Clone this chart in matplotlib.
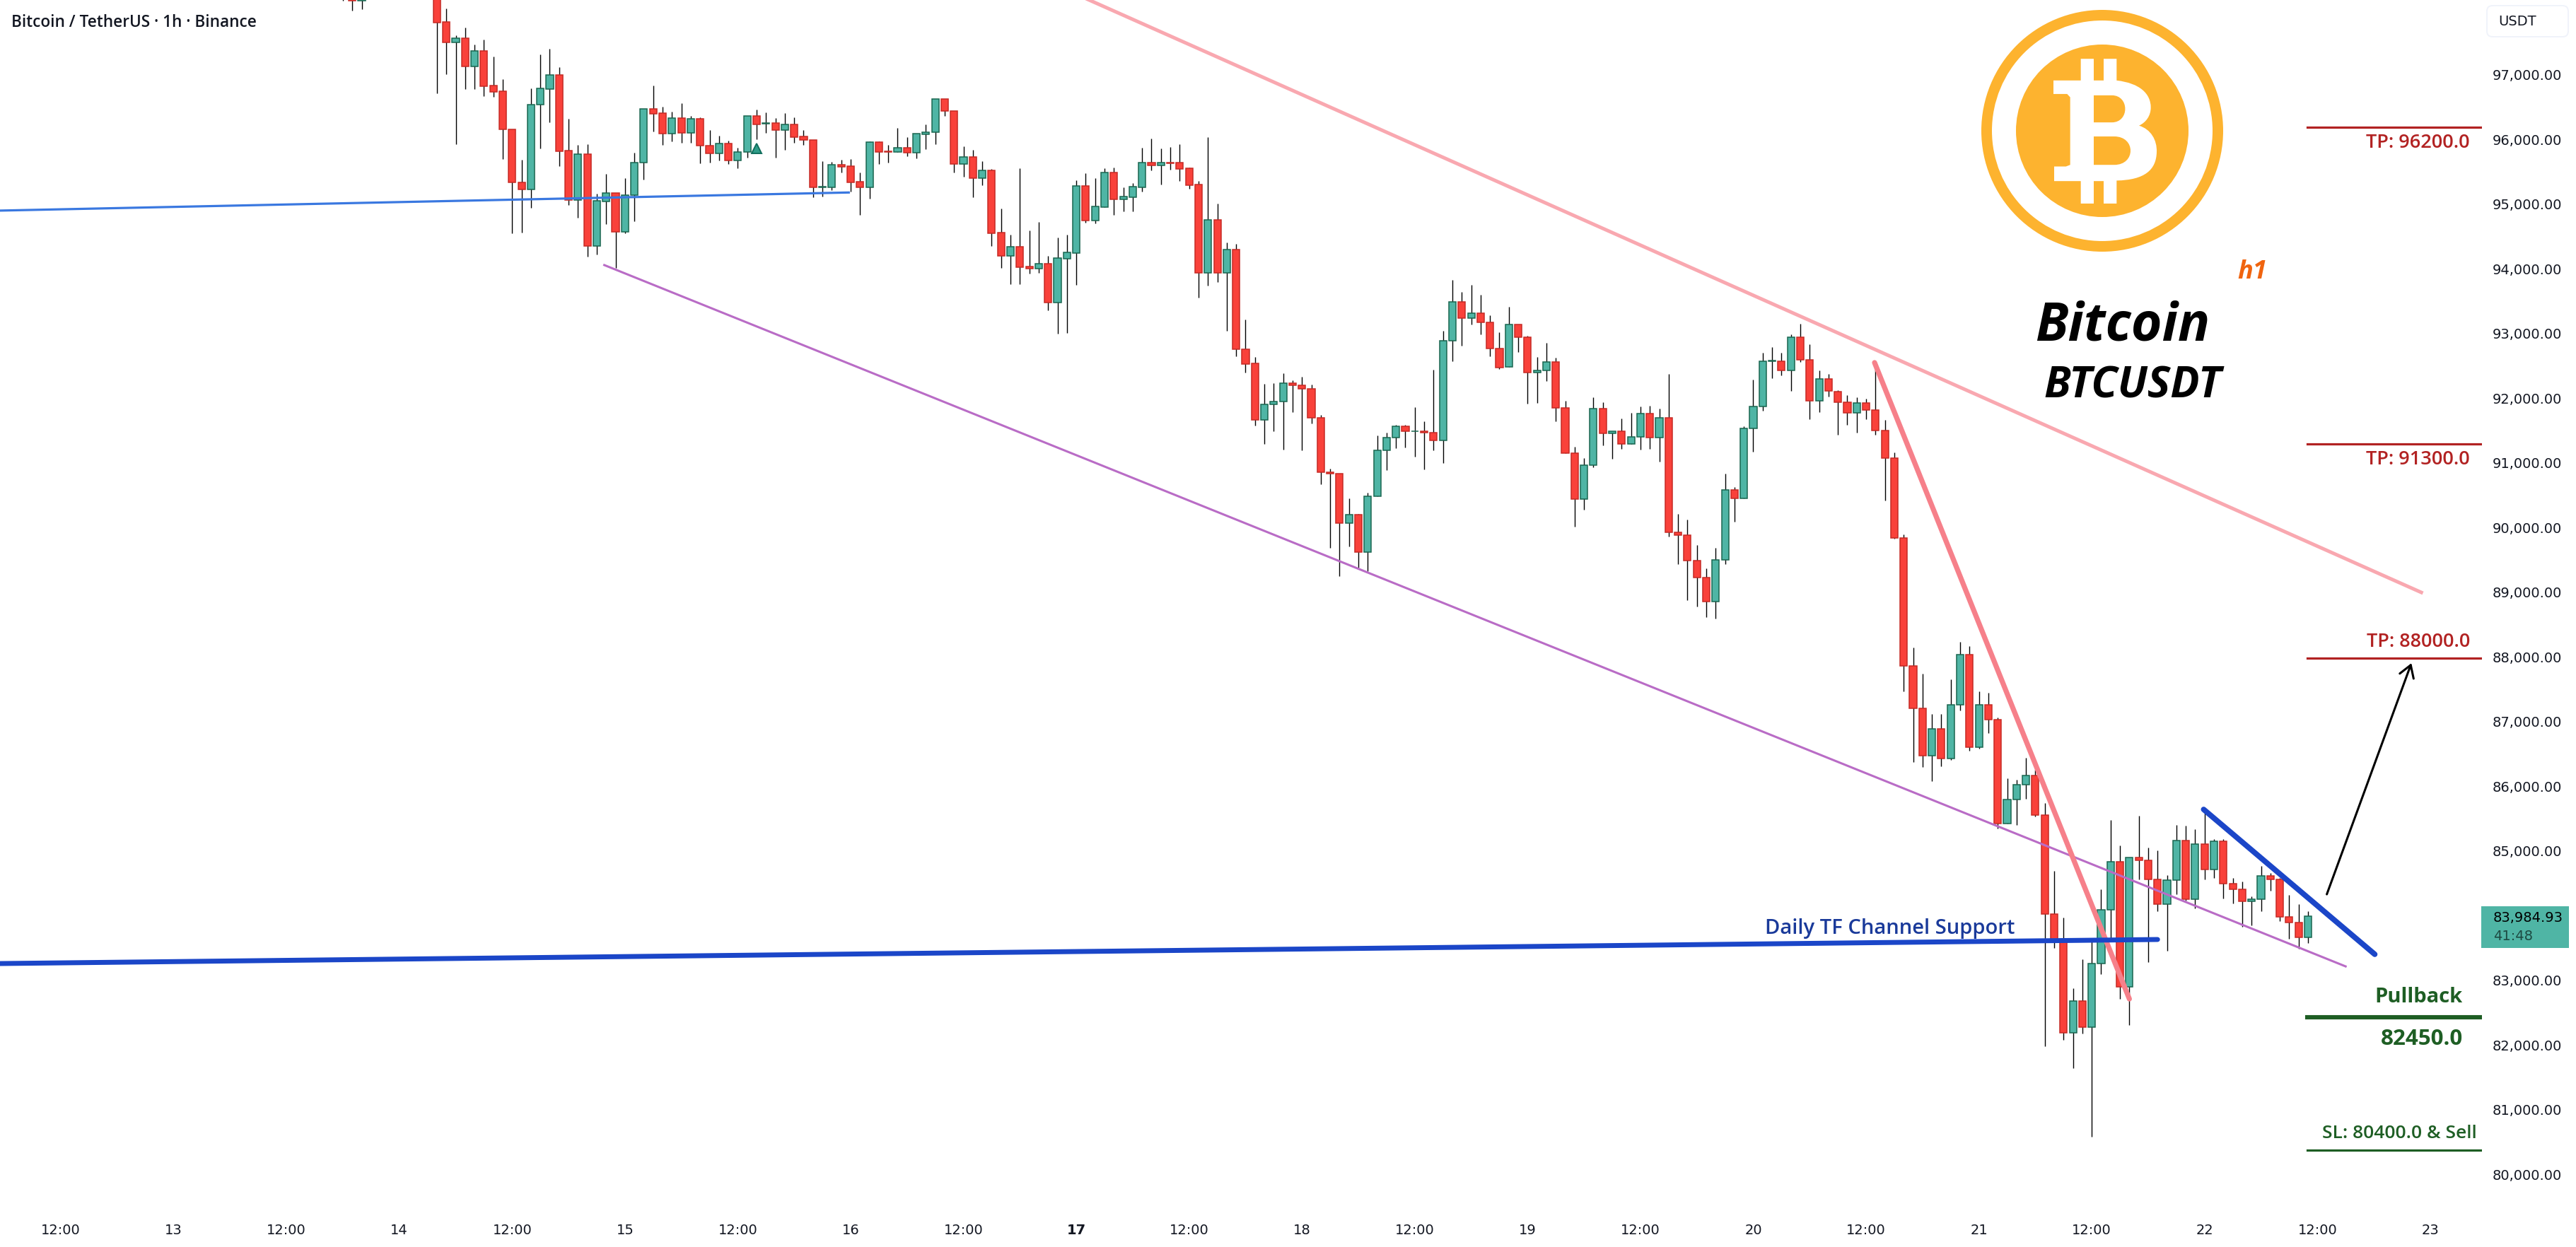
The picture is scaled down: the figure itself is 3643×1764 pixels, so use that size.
"""
BTCUSDT 1h chart with channel lines and trade levels.
"""
import matplotlib
matplotlib.use("Agg")
import matplotlib.pyplot as plt
from matplotlib.patches import Circle, FancyBboxPatch, PathPatch, Rectangle
from matplotlib.path import Path

W, H = 3643, 1765

# hours counted from the 12th 12:00; hours 33-39 are above the visible range
hours = [30, 31, 32] + list(range(40, 240))

opens = [98500, 98400, 98140, 98400, 97805, 97495, 97557, 97123, 97357, 96821,
         96737, 96143, 95324, 95222, 96526, 96774, 96985, 95816, 95054, 95761,
         94347, 95036, 95160, 94566, 95127, 95630, 96460, 96395, 96085, 96318,
         96096, 96307, 95892, 95779, 95925, 95670, 95794, 96351, 96238, 96242,
         96140, 96220, 96034, 95987, 95255, 95255, 95597, 95575, 95335, 95255,
         95947, 95809, 95801, 95860, 95790, 96075, 96100, 96614, 96428, 95608,
         95718, 95397, 95510, 94548, 94195, 94330, 94024, 93998, 94067, 93473,
         94151, 94238, 95269, 94741, 94949, 95477, 95069, 95102, 95255, 95630,
         95594, 95632, 95630, 95543, 95291, 93932, 94745, 93932, 94286, 92745,
         92526, 91652, 91892, 91935, 92219, 92186, 92141, 91684, 90842, 90820,
         90055, 90195, 89615, 90479, 91188, 91377, 91561, 91483, 91483, 91455,
         91333, 92883, 93480, 93234, 93301, 93167, 92755, 92470, 93134, 92939,
         92392, 92415, 92548, 91846, 91137, 90435, 90959, 91835, 91444, 91483,
         91288, 91388, 91751, 91377, 91690, 89922, 89877, 89476, 89213, 88851,
         89487, 90569, 90446, 91528, 91868, 92565, 92565, 92415, 92939, 92587,
         91946, 92292, 92097, 91924, 91768, 91913, 91812, 91494, 91070, 89832,
         87847, 87200, 86459, 86883, 86425, 87256, 88031, 86598, 87256, 87016,
         85410, 85790, 86018, 86163, 85550, 84010, 83598, 82176, 82666, 82270,
         83246, 84083, 84819, 82895, 84886, 84841, 84546, 84172, 84535, 85148,
         84245, 85092, 84708, 85137, 84490, 84401, 84217, 84250, 84602, 84546,
         83977, 83888, 83659]

highs = [98600, 98500, 98500, 98500, 98012, 97604, 97721, 97459, 97531, 97273,
         96919, 96143, 95673, 96781, 97302, 97393, 97109, 96311, 95907, 95918,
         95153, 95459, 95160, 95393, 95786, 96460, 96825, 96493, 96420, 96555,
         96355, 96329, 96136, 96053, 95973, 95863, 96351, 96453, 96410, 96319,
         96399, 96330, 96136, 95987, 95656, 95645, 95674, 95688, 95481, 95962,
         95962, 95907, 96169, 96027, 96082, 96220, 96614, 96614, 96428, 95881,
         95827, 95652, 95535, 94923, 94519, 95546, 94585, 94716, 94187, 94475,
         94519, 95361, 95470, 95397, 95546, 95557, 95251, 95317, 95863, 96005,
         95856, 95871, 95918, 95554, 95346, 96027, 95000, 94399, 94377, 93204,
         92628, 92213, 92228, 92375, 92270, 92325, 92203, 91729, 90903, 90820,
         90440, 90206, 90524, 91416, 91461, 91584, 91584, 91851, 91628, 92431,
         93034, 93820, 93636, 93742, 93591, 93273, 93011, 93402, 93134, 92956,
         92626, 92844, 92615, 91946, 91238, 91070, 92002, 91929, 91483, 91678,
         91762, 91862, 91879, 91835, 92364, 90206, 90111, 89721, 89358, 89676,
         90820, 90619, 91561, 92281, 92688, 92783, 92693, 92978, 93140, 92827,
         92415, 92370, 92113, 92035, 92002, 91985, 92437, 91656, 91154, 89882,
         88137, 87736, 87111, 87106, 87641, 88221, 88154, 87463, 87435, 87050,
         86113, 86091, 86431, 86247, 85734, 84680, 83960, 82873, 83313, 83626,
         84395, 85466, 85076, 84886, 85539, 85048, 84998, 84618, 85394, 85382,
         85327, 85578, 85176, 85176, 84574, 84518, 84284, 84763, 84646, 84574,
         84312, 84172, 84061]

lows = [98140, 97987, 98005, 96701, 96999, 95918, 96774, 96774, 96664, 96654,
        95688, 94544, 94551, 94934, 95856, 96256, 95579, 94978, 94785, 94183,
        94213, 94683, 94005, 94544, 94726, 95371, 96118, 95910, 95965, 95936,
        95936, 95626, 95637, 95670, 95616, 95550, 95710, 95991, 96096, 95710,
        95834, 95943, 95911, 95102, 95113, 95208, 95481, 95182, 94825, 95076,
        95608, 95634, 95801, 95732, 95699, 95841, 95918, 96359, 95481, 95415,
        95098, 95288, 94348, 94005, 93758, 93758, 93922, 93932, 93353, 92993,
        93003, 93743, 94708, 94697, 94949, 94825, 94880, 94880, 95189, 95514,
        95295, 95524, 95353, 95229, 93550, 93732, 93787, 93033, 92639, 92391,
        91572, 91280, 91484, 91199, 91779, 91182, 91600, 90663, 89676, 89236,
        89704, 89369, 89314, 90479, 90875, 91221, 91232, 91087, 90886, 91182,
        90987, 92560, 92805, 93128, 92978, 92638, 92442, 92470, 92705, 91907,
        91918, 92258, 91634, 91137, 90005, 90262, 90920, 91266, 91054, 91210,
        91288, 91199, 91210, 91009, 89855, 89425, 88868, 88773, 88605, 88589,
        89425, 90083, 90446, 91165, 91795, 92297, 92342, 92102, 92548, 91667,
        91773, 92013, 91422, 91584, 91461, 91667, 91427, 90407, 89816, 87462,
        86364, 86291, 86068, 86303, 86403, 87167, 86537, 86570, 86816, 85338,
        85410, 85394, 85801, 85522, 81975, 83492, 82075, 81629, 82165, 80575,
        83090, 83598, 82705, 82298, 84546, 83274, 84061, 83447, 84323, 84228,
        84100, 84546, 84574, 84261, 84183, 83821, 83838, 84055, 84373, 83904,
        83637, 83475, 83570]

closes = [98350, 98140, 98300, 97801, 97495, 97557, 97123, 97357, 96817, 96730,
          96143, 95324, 95222, 96526, 96777, 96985, 95812, 95054, 95761, 94347,
          95040, 95160, 94566, 95127, 95630, 96460, 96391, 96085, 96318, 96096,
          96307, 95892, 95779, 95925, 95670, 95794, 96351, 96228, 96242, 96140,
          96220, 96031, 95987, 95255, 95259, 95597, 95572, 95331, 95255, 95947,
          95801, 95801, 95860, 95790, 96078, 96100, 96614, 96428, 95608, 95718,
          95397, 95510, 94544, 94195, 94330, 94020, 93998, 94067, 93473, 94155,
          94242, 95269, 94741, 94952, 95477, 95069, 95105, 95259, 95630, 95594,
          95630, 95626, 95539, 95288, 93932, 94745, 93932, 94286, 92745, 92523,
          91652, 91892, 91936, 92219, 92186, 92141, 91684, 90842, 90820, 90055,
          90195, 89615, 90479, 91188, 91377, 91561, 91483, 91483, 91455, 91333,
          92883, 93480, 93234, 93301, 93167, 92755, 92465, 93134, 92939, 92392,
          92415, 92548, 91846, 91137, 90435, 90959, 91835, 91444, 91483, 91288,
          91388, 91751, 91377, 91690, 89922, 89877, 89476, 89213, 88851, 89487,
          90569, 90446, 91528, 91868, 92565, 92568, 92415, 92939, 92587, 91946,
          92292, 92102, 91924, 91768, 91913, 91812, 91494, 91070, 89832, 87847,
          87200, 86459, 86883, 86425, 87256, 88031, 86598, 87256, 87016, 85410,
          85790, 86018, 86163, 85544, 84010, 83598, 82176, 82666, 82270, 83246,
          84083, 84819, 82895, 84886, 84841, 84546, 84172, 84535, 85148, 84245,
          85092, 84708, 85137, 84490, 84401, 84217, 84250, 84602, 84546, 83977,
          83888, 83659, 83985]

# axis labels
price_ticks = [80000, 81000, 82000, 83000, 85000, 86000, 87000, 88000, 89000,
               90000, 91000, 92000, 93000, 94000, 95000, 96000, 97000]
time_ticks = list(range(0, 253, 12))
time_labels = ["12:00", "13", "12:00", "14", "12:00", "15", "12:00", "16", "12:00", "17", "12:00",
               "18", "12:00", "19", "12:00", "20", "12:00", "21", "12:00", "22", "12:00", "23"]

# drawn lines (hour, price)
thin_blue = ([-6.5, 83.8], [94891, 95171])
purple_line = ([57.8, 243.0], [94049, 83206])
pink_channel = ([109.2, 251.05], [98158, 88988])
salmon_line = ([192.9, 220.0], [92541, 82703])
daily_support = ([-6.5, 223.0], [83250, 83622])
short_blue = ([227.9, 246.1], [85633, 83393])
arrow_start = (241.0, 84321)
arrow_end = (250.0, 87895)

# levels as drawn
tp_levels = [96180, 91278, 87972]
pullback_level = 82417
sl_level = 80365
level_hours = (238.9, 257.4)

RED = "#f9413a"
RED_EDGE = "#c62a25"
GREEN = "#4fb5a5"
GREEN_EDGE = "#1a6650"
ORANGE = "#fdb32f"

fig = plt.figure(figsize=(W / 100, H / 100), dpi=100, facecolor="white")
ax = fig.add_axes([0, (H - 1712) / H, 3510 / W, 1712 / H])
ax.set_xlim(-6.47, 257.5)
ax.set_ylim(79447, 98158)
for s in ax.spines.values():
    s.set_visible(False)

# candles
ax.vlines(hours, lows, highs, color="black", lw=1.0, zorder=2)
bar_colors = [GREEN if c >= o else RED for o, c in zip(opens, closes)]
edge_colors = [GREEN_EDGE if c >= o else RED_EDGE for o, c in zip(opens, closes)]
ax.bar(hours, [c - o for o, c in zip(opens, closes)], bottom=opens, width=0.76,
       color=bar_colors, edgecolor=edge_colors, linewidth=1.1, zorder=3)
ax.plot([74], [95856], marker="^", ms=10, mfc="#2f9c88", mec="#0f6e5c", mew=1.4, zorder=4)

# trend lines
ax.plot(*thin_blue, color="#3a78e0", lw=2.3, zorder=5)
ax.plot(*purple_line, color="#b96cc6", lw=2.2, zorder=5)
ax.plot(*pink_channel, color="#f9a8b0", lw=3.6, zorder=5)
ax.plot(*salmon_line, color="#f6808a", lw=5.2, solid_capstyle="round", zorder=6)
ax.plot(*daily_support, color="#1b46c8", lw=5, solid_capstyle="round", zorder=6)
ax.plot(*short_blue, color="#1b46c8", lw=5.6, solid_capstyle="round", zorder=6)
ax.annotate("", xy=arrow_end, xytext=arrow_start, zorder=7,
            arrowprops=dict(arrowstyle="->,head_length=1.2,head_width=0.75", color="black",
                            lw=2.2, shrinkA=0, shrinkB=0))

# levels
for lv in tp_levels:
    ax.plot(level_hours, [lv, lv], color="#b22222", lw=2.3, zorder=5)
ax.plot(level_hours, [pullback_level, pullback_level], color="#1e5e24", lw=4.4, zorder=5)
ax.plot(level_hours, [sl_level, sl_level], color="#1e5e24", lw=2.3, zorder=5)

# axes labels
ax.yaxis.tick_right()
ax.set_yticks(price_ticks)
ax.set_yticklabels(["{:,.2f}".format(p) for p in price_ticks])
ax.set_xticks(time_ticks)
ax.set_xticklabels(time_labels)
ax.tick_params(axis="y", length=0, pad=10.5, labelsize=14, labelcolor="#131722")
ax.tick_params(axis="x", length=0, pad=14, labelsize=14, labelcolor="#131722")
for t in ax.get_xticklabels():
    if t.get_text() == "17":
        t.set_fontweight("bold")

# overlay in pixels for logo and texts
ov = fig.add_axes([0, 0, 1, 1], facecolor="none")
ov.set_xlim(0, W)
ov.set_ylim(H, 0)
ov.axis("off")

ov.text(16, 32, "Bitcoin / TetherUS · 1h · Binance", family="Open Sans", weight="semibold",
        fontsize=16.3, color="#131722", va="center", ha="left")

# logo
ov.add_patch(Circle((2973, 186), 171, fc=ORANGE, ec="none"))
ov.add_patch(Circle((2973, 186), 156, fc="white", ec="none"))
ov.add_patch(Circle((2973, 186), 122, fc=ORANGE, ec="none"))


def lp(x, y):
    return (2760 + x / 3, y / 2.613)


M, L, C = Path.MOVETO, Path.LINETO, Path.CURVE4
b_pts = [((432, 300), M), ((548, 300), L), ((548, 220), L), ((603, 220), L), ((603, 300), L),
         ((645, 300), L), ((645, 220), L), ((700, 220), L), ((700, 300), L),
         ((800, 310), C), ((845, 350), C), ((845, 400), C),
         ((845, 430), C), ((825, 455), C), ((795, 467), C),
         ((845, 480), C), ((872, 520), C), ((870, 565), C),
         ((868, 630), C), ((820, 668), C), ((700, 670), C),
         ((700, 755), L), ((645, 755), L), ((645, 672), L), ((603, 672), L), ((603, 755), L),
         ((548, 755), L), ((548, 672), L), ((435, 672), L), ((435, 618), L), ((485, 618), L),
         ((503, 612), L), ((503, 362), L), ((490, 350), L), ((432, 350), L), ((432, 300), L)]
ov.add_patch(PathPatch(Path([lp(*p) for p, _ in b_pts], [c for _, c in b_pts]), fc="white", ec="none"))
hole_up = [((603, 355), M), ((680, 355), L), ((755, 355), C), ((755, 455), C), ((680, 455), C),
           ((603, 455), L), ((603, 355), L)]
hole_low = [((603, 507), M), ((690, 507), L), ((782, 507), C), ((782, 612), C), ((690, 612), C),
            ((603, 612), L), ((603, 507), L)]
for hole in (hole_up, hole_low):
    ov.add_patch(PathPatch(Path([lp(*p) for p, _ in hole], [c for _, c in hole]), fc=ORANGE, ec="none"))

ov.text(3164, 394, "h1", family="Open Sans", style="italic", weight="bold", fontsize=26,
        color="#f0640f", va="baseline", ha="left")
ov.text(2878, 481, "Bitcoin", family="Open Sans", style="italic", weight="bold", fontsize=54,
        color="black", va="baseline", ha="left")
ov.text(2890, 562, "BTCUSDT", family="Open Sans", style="italic", weight="bold", fontsize=44,
        color="black", va="baseline", ha="left")

# level and line texts
for label, y in zip(["TP: 96200.0", "TP: 91300.0", "TP: 88000.0"], [202, 650, 908]):
    ov.text(3493, y, label, family="Open Sans", fontsize=19.5, color="#b22222",
            ha="right", va="center", weight="semibold")
ov.text(3483, 1410, "Pullback", family="Open Sans", fontsize=21, color="#1e5e24",
        ha="right", va="center", weight="bold")
ov.text(3483, 1470, "82450.0", family="Open Sans", fontsize=22.6, color="#1e5e24",
        ha="right", va="center", weight="bold")
ov.text(3503, 1604, "SL: 80400.0 & Sell", family="Open Sans", fontsize=19, color="#1e5e24",
        ha="right", va="center", weight="semibold")
ov.text(2496, 1321, "Daily TF Channel Support", family="Open Sans", weight="semibold", fontsize=21,
        color="#1a3a9a", ha="left", va="baseline")

# price tag and currency box
ov.add_patch(Rectangle((3509, 1283), 124, 59, fc=GREEN, ec="none"))
ov.text(3526, 1298, "83,984.93", fontsize=14, color="black", va="center", ha="left")
ov.text(3526, 1324, "41:48", fontsize=14, color="#1d4a42", va="center", ha="left")
ov.add_patch(FancyBboxPatch((3520, 12), 109, 38, boxstyle="round,pad=3,rounding_size=8",
                            fc="white", ec="#f0f3fa", lw=1.4))
ov.text(3533, 30, "USDT", fontsize=14, color="#131722", va="center", ha="left")

plt.savefig("out.png", dpi=100)
